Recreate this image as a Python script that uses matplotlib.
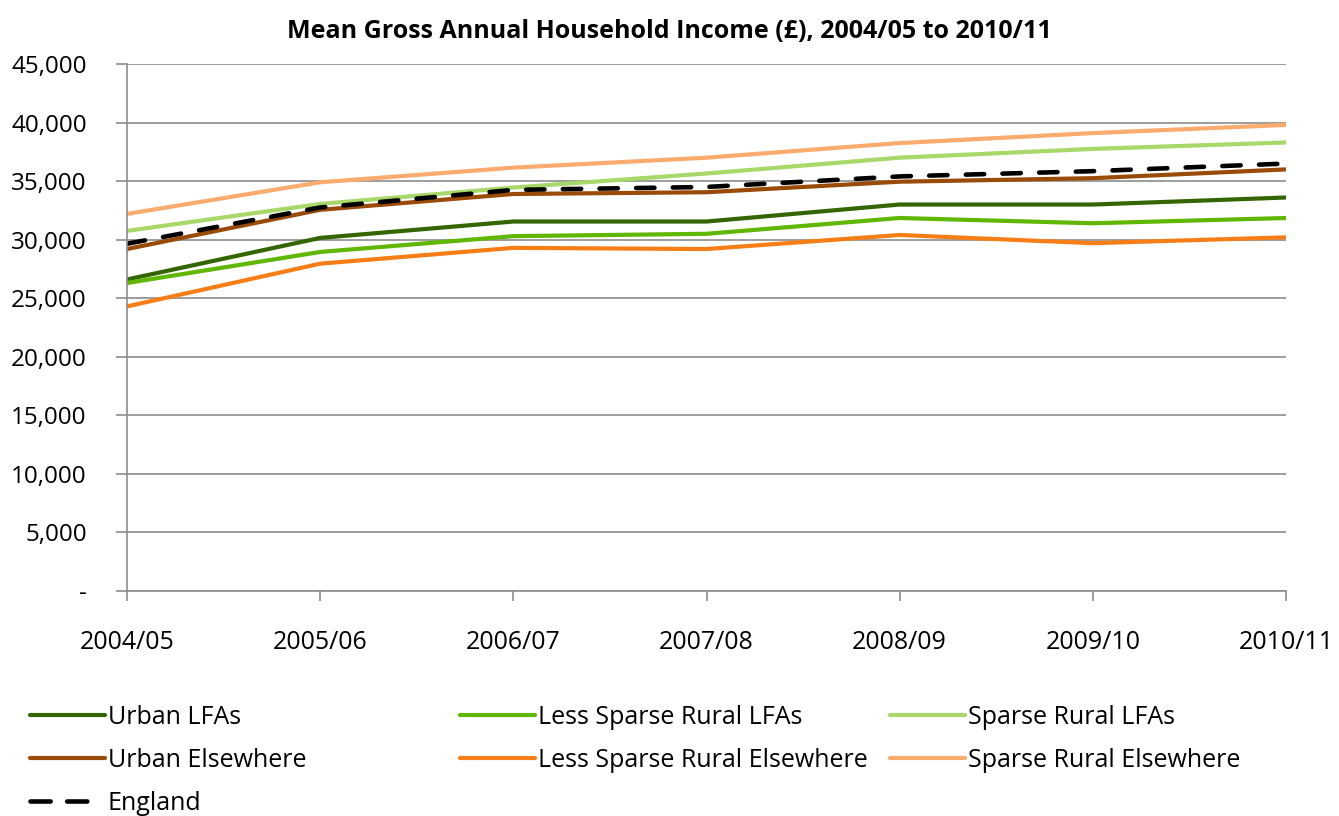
import numpy as np
import matplotlib
matplotlib.use("Agg")
import matplotlib.pyplot as plt
from matplotlib.lines import Line2D

plt.rcParams['font.family'] = ['Open Sans', 'DejaVu Sans']

years = ["2004/05", "2005/06", "2006/07", "2007/08", "2008/09", "2009/10", "2010/11"]

urban_lfas = [26600, 30150, 31550, 31550, 33000, 33000, 33600]
less_sparse_lfas = [26300, 28950, 30300, 30500, 31850, 31400, 31850]
sparse_lfas = [30750, 33050, 34450, 35650, 37000, 37750, 38300]
urban_else = [29200, 32550, 33900, 34050, 34950, 35250, 36000]
less_sparse_else = [24300, 27950, 29300, 29200, 30400, 29700, 30200]
sparse_else = [32200, 34900, 36150, 37000, 38250, 39100, 39800]
england = [29650, 32750, 34250, 34500, 35400, 35850, 36500]

series = [
    ("Urban LFAs", urban_lfas, "#336600"),
    ("Less Sparse Rural LFAs", less_sparse_lfas, "#5fb700"),
    ("Sparse Rural LFAs", sparse_lfas, "#a8d86a"),
    ("Urban Elsewhere", urban_else, "#9a4b08"),
    ("Less Sparse Rural Elsewhere", less_sparse_else, "#f77e17"),
    ("Sparse Rural Elsewhere", sparse_else, "#fbab6d"),
]

fig = plt.figure(figsize=(13.39, 8.16), dpi=100)
ax = fig.add_axes([127/1339, 1-591/816, (1286-127)/1339, (591-64)/816])

x = np.arange(len(years))
handles = {}
for name, vals, col in series:
    ln, = ax.plot(x, vals, color=col, lw=3.0, solid_capstyle='round', solid_joinstyle='round')
    handles[name] = ln
ax.plot(x, england, color='black', lw=3.3, dashes=(4, 4), dash_capstyle='round')
# legend key for England: two dashes only
handles["England"] = Line2D([], [], color='black', lw=3.3, dashes=(4.4, 3.6, 4.4, 20),
                            dash_capstyle='round')

ax.set_xlim(0, len(years)-1)
ax.set_ylim(0, 45000)
ax.set_yticks(np.arange(0, 45001, 5000))
ax.set_yticklabels(["-"] + [f"{v:,}" for v in range(5000, 45001, 5000)])
ax.set_xticks(x)
ax.set_xticklabels(years)

ax.grid(axis='y', color='#8c8c8c', lw=1.2)
ax.set_axisbelow(True)
for s in ['top', 'right']:
    ax.spines[s].set_visible(False)
for s in ['left', 'bottom']:
    ax.spines[s].set_color('#8c8c8c')
    ax.spines[s].set_linewidth(1.2)
ax.tick_params(axis='y', length=8, width=1.2, color='#8c8c8c', labelsize=17.5, pad=21)
ax.tick_params(axis='x', length=7, width=1.2, color='#8c8c8c', labelsize=18, pad=21)
ax.get_xticklabels()[-1].set_clip_on(False)

fig.text(0.5, 1-31/816, "Mean Gross Annual Household Income (\u00a3), 2004/05 to 2010/11",
         ha='center', va='center', fontsize=18, fontweight='bold')

# three legend columns placed by hand
columns = [
    (30, ["Urban LFAs", "Urban Elsewhere", "England"]),
    (460, ["Less Sparse Rural LFAs", "Less Sparse Rural Elsewhere"]),
    (890, ["Sparse Rural LFAs", "Sparse Rural Elsewhere"]),
]
for xpix, names in columns:
    fig.legend([handles[n] for n in names], names,
               loc='upper left', bbox_to_anchor=(xpix/1339, 1-705/816),
               frameon=False, fontsize=18, handlelength=3.0, handletextpad=0.1,
               labelspacing=0.72, borderaxespad=0, borderpad=0)

fig.savefig("out.png", dpi=100)
